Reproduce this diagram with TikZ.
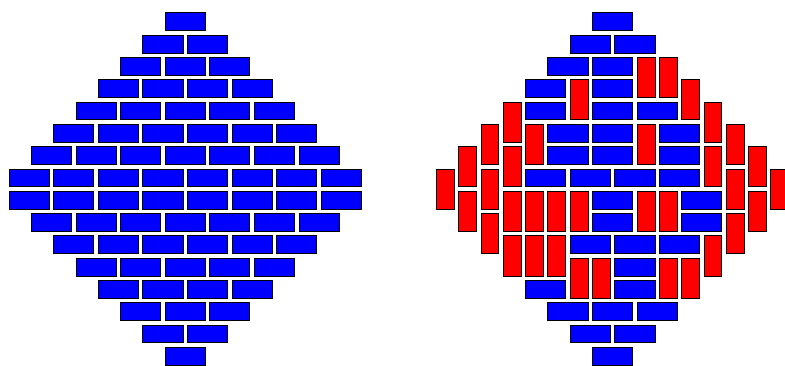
\documentclass[tikz,border=0pt]{standalone}
\usepackage{tikz}
\tikzset{
  dom/.style={draw=black,line width=.6pt},
  hdom/.style={dom,fill=blue},
  vdom/.style={dom,fill=red},
  grid unit/.style={x=.6cm,y=.6cm}
}
% domino with top-left cell at column #1, row #2 (rows counted downwards)
\newcommand\hpiece[2]{\draw[hdom] (#1+.1,-#2-.1) rectangle (#1+1.9,-#2-.9);}
\newcommand\vpiece[2]{\draw[vdom] (#1+.1,-#2-.1) rectangle (#1+.9,-#2-1.9);}

\begin{document}
\begin{tikzpicture}[grid unit]
  \useasboundingbox (0,0) rectangle (35.2,16.37);
  % left diamond: all horizontal
  \begin{scope}[shift={(8.305,15.895)}]
    \foreach \k in {1,...,8}{
      \foreach \i in {1,...,\k}{
        \pgfmathtruncatemacro\c{-\k+2*(\i-1)}
        \pgfmathtruncatemacro\ra{\k-1}
        \pgfmathtruncatemacro\rb{16-\k}
        \hpiece{\c}{\ra}\hpiece{\c}{\rb}}}
  \end{scope}
  % right diamond: mixed tiling
  \begin{scope}[shift={(27.466,15.895)}]
    \foreach \c/\r in {-1/0,-2/1,0/1,-3/2,-1/2,-4/3,-1/3,-4/4,-1/4,1/4,
      -3/5,-1/5,2/5,-3/6,-1/6,2/6,-4/7,-2/7,0/7,2/7,-1/8,3/8,-1/9,3/9,
      -2/10,0/10,2/10,0/11,-4/12,0/12,-3/13,-1/13,1/13,-2/14,0/14,-1/15}
      {\hpiece{\c}{\r}}
    \foreach \c/\r in {1/2,2/2,-2/3,3/3,-5/4,4/4,-6/5,-4/5,1/5,5/5,
      -7/6,-5/6,4/6,6/6,-8/7,-6/7,5/7,7/7,-7/8,-5/8,-4/8,-3/8,-2/8,
      1/8,2/8,6/8,-6/9,5/9,-5/10,-4/10,-3/10,4/10,-2/11,-1/11,2/11,3/11}
      {\vpiece{\c}{\r}}
  \end{scope}
\end{tikzpicture}
\end{document}
